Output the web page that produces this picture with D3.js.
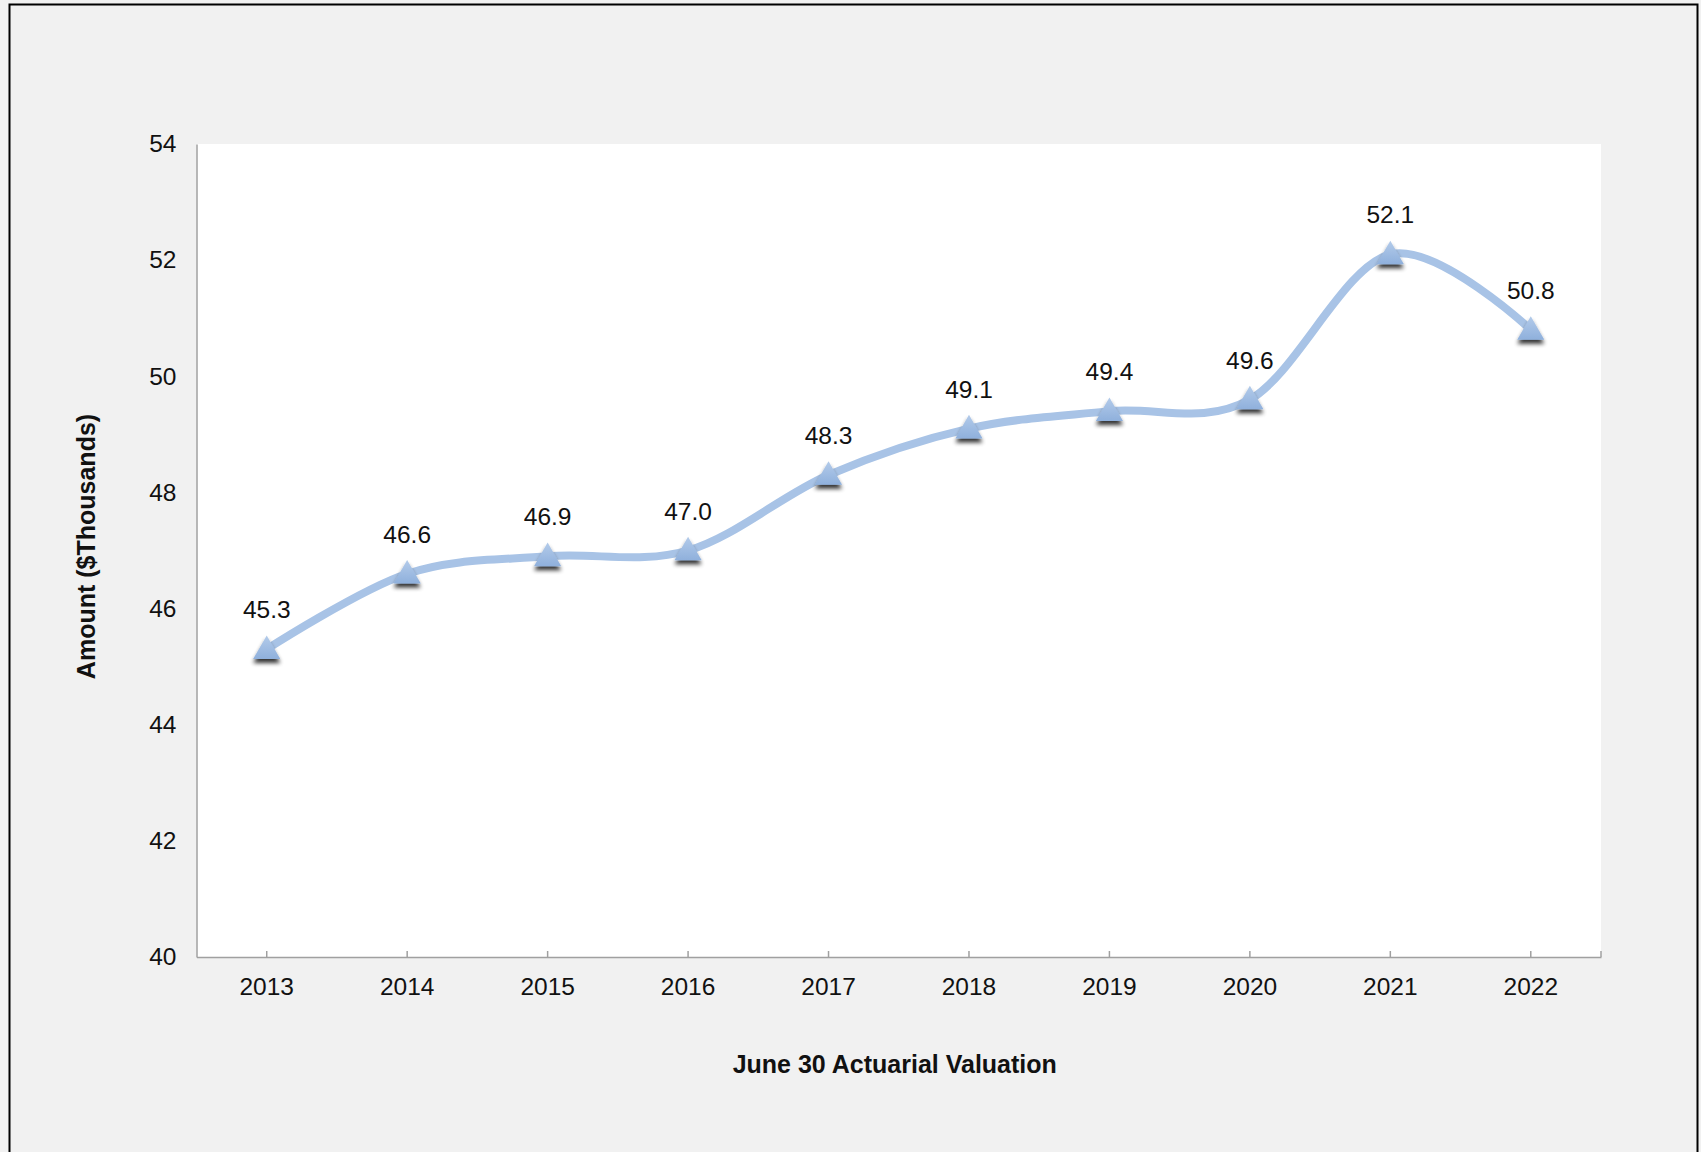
<!DOCTYPE html>
<html>
<head>
<meta charset="utf-8">
<script src="https://cdn.jsdelivr.net/npm/d3@7"></script>
<style>
  html, body { margin: 0; padding: 0; background: #f1f1f1; }
  svg { display: block; }
  text { font-family: "Liberation Sans", Arial, sans-serif; fill: #111; }
</style>
</head>
<body>
<svg id="chart" width="1701" height="1152"></svg>
<script>
// Average amount by valuation year ($ thousands)
const years = ["2013", "2014", "2015", "2016", "2017", "2018", "2019", "2020", "2021", "2022"];
const amounts = [45.3, 46.6, 46.9, 47.0, 48.3, 49.1, 49.4, 49.6, 52.1, 50.8];
const yTicks = [40, 42, 44, 46, 48, 50, 52, 54];
const xTitle = "June 30 Actuarial Valuation";
const yTitle = "Amount ($Thousands)";

const plot = { left: 196.5, right: 1601, top: 144, bottom: 957 };
const FONT = "'Liberation Sans', Arial, sans-serif";

const svg = d3.select("#chart");

// outer frame
svg.append("rect")
  .attr("x", 9.5).attr("y", 4.5)
  .attr("width", 1688).attr("height", 1160)
  .attr("fill", "#f1f1f1").attr("stroke", "#000").attr("stroke-width", 2);

// plot area
svg.append("rect")
  .attr("x", plot.left).attr("y", plot.top)
  .attr("width", plot.right - plot.left).attr("height", plot.bottom - plot.top)
  .attr("fill", "#fff");

const x = d3.scaleBand().domain(years).range([plot.left, plot.right]);
const y = d3.scaleLinear().domain([40, 54]).range([plot.bottom, plot.top]);
const cx = d => x(d) + x.bandwidth() / 2;

const defs = svg.append("defs");
const grad = defs.append("linearGradient").attr("id", "triFill")
  .attr("x1", 0).attr("y1", 0).attr("x2", 0).attr("y2", 1);
grad.append("stop").attr("offset", 0).attr("stop-color", "#b3cbea");
grad.append("stop").attr("offset", 1).attr("stop-color", "#8fb0dc");
const shadow = defs.append("filter").attr("id", "mShadow")
  .attr("x", "-50%").attr("y", "-50%").attr("width", "200%").attr("height", "200%");
shadow.append("feGaussianBlur").attr("in", "SourceAlpha").attr("stdDeviation", 2.2).attr("result", "b");
shadow.append("feOffset").attr("in", "b").attr("dx", 0).attr("dy", 3.5).attr("result", "o");
shadow.append("feComponentTransfer").attr("in", "o").attr("result", "s")
  .append("feFuncA").attr("type", "linear").attr("slope", 0.8);
const merge = shadow.append("feMerge");
merge.append("feMergeNode").attr("in", "s");
merge.append("feMergeNode").attr("in", "SourceGraphic");

// y axis (line + labels only)
const yAxis = d3.axisLeft(y).tickValues(yTicks).tickSize(0).tickPadding(20);
const gy = svg.append("g").attr("transform", `translate(${plot.left},0)`).call(yAxis);
gy.select(".domain").attr("stroke", "#a0a0a0").attr("stroke-width", 1.5);
gy.selectAll("text").style("font-size", "24.5px").attr("fill", "#111").style("font-family", FONT);

// x axis with inward ticks at category centres
const xAxis = d3.axisBottom(x).tickSize(0).tickPadding(0);
const gx = svg.append("g").attr("transform", `translate(0,${plot.bottom})`).call(xAxis);
gx.select(".domain").attr("stroke", "#a0a0a0").attr("stroke-width", 1.5);
gx.selectAll(".tick line").attr("y2", -6).attr("stroke", "#a0a0a0").attr("stroke-width", 1.5);
gx.selectAll("text").attr("y", 38).attr("dy", 0)
  .style("font-size", "24.5px").attr("fill", "#111").style("font-family", FONT);
gx.append("line").attr("x1", plot.right).attr("x2", plot.right)
  .attr("y1", 0).attr("y2", -6).attr("stroke", "#a0a0a0").attr("stroke-width", 1.5);

// axis titles
svg.append("text")
  .attr("x", (plot.left + plot.right) / 2 - 4).attr("y", 1073)
  .attr("text-anchor", "middle")
  .style("font-size", "25px").style("font-weight", "bold")
  .text(xTitle);
svg.append("text")
  .attr("transform", `translate(95,${(plot.top + plot.bottom) / 2 - 4}) rotate(-90)`)
  .attr("text-anchor", "middle")
  .style("font-size", "25px").style("font-weight", "bold")
  .text(yTitle);

// smoothed series line
const line = d3.line()
  .x((d, i) => cx(years[i]))
  .y(d => y(d))
  .curve(d3.curveCardinal.tension(0));
svg.append("path")
  .datum(amounts)
  .attr("d", line)
  .attr("fill", "none")
  .attr("stroke", "#a8c3e6")
  .attr("stroke-width", 8)
  .attr("stroke-linecap", "round")
  .attr("stroke-linejoin", "round");

// triangle markers
const tri = d3.symbol().type(d3.symbolTriangle).size(320);
svg.append("g").selectAll("path")
  .data(amounts)
  .join("path")
  .attr("d", tri)
  .attr("transform", (d, i) => `translate(${cx(years[i])},${y(d) + 2})`)
  .attr("fill", "url(#triFill)")
  .attr("filter", "url(#mShadow)");

// value labels
svg.append("g").selectAll("text")
  .data(amounts)
  .join("text")
  .attr("x", (d, i) => cx(years[i]))
  .attr("y", d => y(d) - 31)
  .attr("text-anchor", "middle")
  .style("font-size", "24.5px")
  .text(d => d.toFixed(1));
</script>
</body>
</html>
